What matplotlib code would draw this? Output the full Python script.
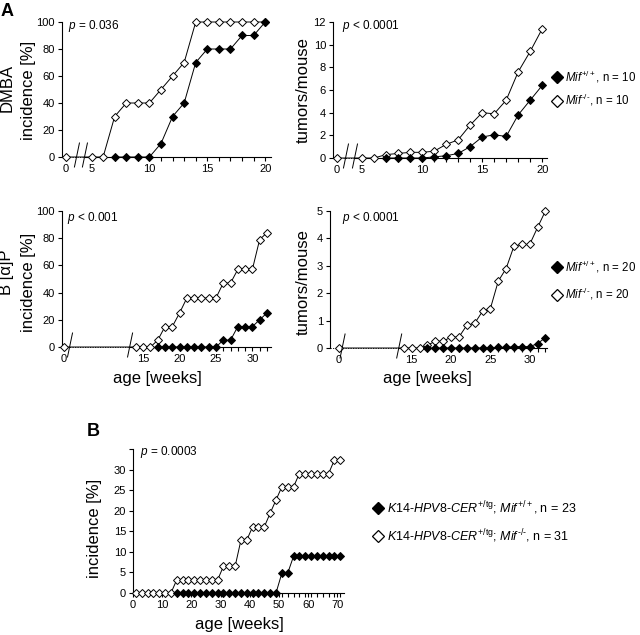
import matplotlib
matplotlib.use('Agg')
from matplotlib import pyplot as plt
from matplotlib.lines import Line2D

plt.rcParams['font.family'] = 'Liberation Sans'
plt.rcParams['mathtext.fontset'] = 'custom'
plt.rcParams['mathtext.rm'] = 'Liberation Sans'
plt.rcParams['mathtext.it'] = 'Liberation Sans:italic'
plt.rcParams['mathtext.bf'] = 'Liberation Sans:bold'

W, H = 640, 635

# A, DMBA (week 0 is drawn in front of the axis break)
dmba_weeks_ko = [0, 5, 6, 7, 8, 9, 10, 11, 12, 13, 14, 15, 16, 17, 18, 19, 20]
dmba_weeks_wt = [7, 8, 9, 10, 11, 12, 13, 14, 15, 16, 17, 18, 19, 20]
dmba_inc_ko = [0, 0, 0, 30, 40, 40, 40, 50, 60, 70, 100, 100, 100, 100, 100, 100, 100]
dmba_inc_wt = [0, 0, 0, 0, 10, 30, 40, 70, 80, 80, 80, 90, 90, 100]
dmba_tum_ko = [0, 0, 0, 0.3, 0.4, 0.5, 0.5, 0.6, 1.2, 1.6, 2.9, 4.0, 3.9, 5.1, 7.6, 9.4, 11.4]
dmba_tum_wt = [0, 0, 0, 0, 0.1, 0.2, 0.4, 1.0, 1.85, 2.05, 1.9, 3.8, 5.1, 6.4]

# A, B[a]P
bap_weeks_ko = [0, 14, 15, 16, 17, 18, 19, 20, 21, 22, 23, 24, 25, 26, 27, 28, 29, 30, 31, 32]
bap_weeks_wt = [17, 18, 19, 20, 21, 22, 23, 24, 25, 26, 27, 28, 29, 30, 31, 32]
bap_inc_ko = [0, 0, 0, 0, 5, 15, 15, 25, 36, 36, 36, 36, 36, 47, 47, 57, 57, 57, 79, 84]
bap_inc_wt = [0, 0, 0, 0, 0, 0, 0, 0, 0, 5, 5, 15, 15, 15, 20, 25]
bap_tum_ko = [0, 0, 0, 0, 0.1, 0.25, 0.25, 0.4, 0.4, 0.83, 0.9, 1.34, 1.44, 2.44, 2.9,
              3.72, 3.78, 3.78, 4.4, 5.0]
bap_tum_wt = [0, 0, 0, 0, 0, 0, 0, 0, 0, 0.02, 0.02, 0.05, 0.05, 0.05, 0.16, 0.38]

# B, K14-HPV8-CER
hpv_weeks_ko = [1, 3, 5, 7, 9, 11, 13, 15, 17, 19, 21, 23, 25, 27, 29, 31, 33, 35, 37, 39,
                41, 43, 45, 47, 49, 51, 53, 55, 57, 59, 61, 63, 65, 67, 69, 71]
hpv_inc_ko = [0, 0, 0, 0, 0, 0, 0, 3.2, 3.2, 3.2, 3.2, 3.2, 3.2, 3.2, 3.2, 6.5, 6.5, 6.5,
              12.9, 12.9, 16.1, 16.1, 16.1, 19.4, 22.6, 25.8, 25.8, 25.8, 29.0, 29.0, 29.0,
              29.0, 29.0, 29.0, 32.3, 32.3]
hpv_weeks_wt = [15, 17, 19, 21, 23, 25, 27, 29, 31, 33, 35, 37, 39, 41, 43, 45, 47, 49,
                51, 53, 55, 57, 59, 61, 63, 65, 67, 69, 71]
hpv_inc_wt = [0, 0, 0, 0, 0, 0, 0, 0, 0, 0, 0, 0, 0, 0, 0, 0, 0, 0,
              4.8, 4.8, 8.9, 8.9, 8.9, 8.9, 8.9, 8.9, 8.9, 8.9, 8.9]

fig = plt.figure(figsize=(W / 100, H / 100), dpi=100)


def add_axes(left, top, right, bottom):
    return fig.add_axes([left / W, 1 - bottom / H, (right - left) / W, (bottom - top) / H])


def ftext(x, y, s, **kw):
    fig.text(x / W, 1 - y / H, s, **kw)


def draw_series(ax, x_ko, y_ko, x_wt, y_wt, fake0=None):
    if fake0 is not None:
        x_ko = [fake0 if w == 0 else w for w in x_ko]
    ax.plot(x_ko, y_ko, color='k', lw=0.7, marker='D', ms=4, mfc='white', mec='k',
            mew=0.7, clip_on=False, zorder=3)
    ax.plot(x_wt, y_wt, color='k', lw=0.7, marker='D', ms=4, mfc='k', mec='k',
            mew=0.7, clip_on=False, zorder=4)


def style_axes(ax, xlim, ylim, yticks, ylabels=None):
    ax.set_xlim(*xlim)
    ax.set_ylim(*ylim)
    ax.set_yticks(yticks)
    if ylabels is not None:
        ax.set_yticklabels(ylabels)
    for s in ['top', 'right']:
        ax.spines[s].set_visible(False)
    for s in ['left', 'bottom']:
        ax.spines[s].set_linewidth(0.8)
    ax.tick_params(which='both', direction='out', length=3, width=0.8, labelsize=8, pad=2)
    ax.tick_params(which='minor', length=3)


def broken_x(ax, xlim, ylim, fake0, breaks, majors, minors):
    ax.spines['bottom'].set_bounds(breaks[-1], xlim[1])
    ax.plot([xlim[0], breaks[-1]], [0, 0], color='k', lw=0.6, ls=(0, (1.5, 1.5)),
            clip_on=False, zorder=1)
    ax.set_xticks([fake0] + majors)
    ax.set_xticklabels(['0'] + [str(m) for m in majors])
    ax.set_xticks(minors, minor=True)
    pos = ax.get_position()
    pxx = pos.width * W / (xlim[1] - xlim[0])
    pxy = pos.height * H / (ylim[1] - ylim[0])
    for b in breaks:
        ax.plot([b - 2.5 / pxx, b + 2.5 / pxx], [-10 / pxy, 14 / pxy], color='k', lw=0.7,
                clip_on=False, zorder=5)


# A: DMBA incidence
ax = add_axes(62, 22, 271, 157)
xl, yl = (2.45, 20.5), (0, 100)
style_axes(ax, xl, yl, [0, 20, 40, 60, 80, 100])
broken_x(ax, xl, yl, 2.8, [3.74, 4.43], [5, 10, 15, 20],
         [6, 7, 8, 9, 11, 12, 13, 14, 16, 17, 18, 19])
draw_series(ax, dmba_weeks_ko, dmba_inc_ko, dmba_weeks_wt, dmba_inc_wt, fake0=2.8)

# A: DMBA tumors/mouse
ax = add_axes(333, 22, 547, 158)
xl, yl = (2.58, 20.4), (0, 12)
style_axes(ax, xl, yl, [0, 2, 4, 6, 8, 10, 12])
broken_x(ax, xl, yl, 2.9, [3.66, 4.41], [5, 10, 15, 20],
         [6, 7, 8, 9, 11, 12, 13, 14, 16, 17, 18, 19])
draw_series(ax, dmba_weeks_ko, dmba_tum_ko, dmba_weeks_wt, dmba_tum_wt, fake0=2.9)

# A: B[a]P incidence
ax = add_axes(62, 211, 271, 347)
xl, yl = (3.85, 32.56), (0, 100)
style_axes(ax, xl, yl, [0, 20, 40, 60, 80, 100])
broken_x(ax, xl, yl, 4.1, [4.95, 13.2], [15, 20, 25, 30],
         [14, 16, 17, 18, 19, 21, 22, 23, 24, 26, 27, 28, 29, 31, 32])
draw_series(ax, bap_weeks_ko, bap_inc_ko, bap_weeks_wt, bap_inc_wt, fake0=4.1)

# A: B[a]P tumors/mouse
ax = add_axes(330, 211, 547, 348)
xl, yl = (4.6, 32.2), (0, 5)
style_axes(ax, xl, yl, [0, 1, 2, 3, 4, 5])
broken_x(ax, xl, yl, 5.7, [6.2, 13.4], [15, 20, 25, 30],
         [14, 16, 17, 18, 19, 21, 22, 23, 24, 26, 27, 28, 29, 31, 32])
draw_series(ax, bap_weeks_ko, bap_tum_ko, bap_weeks_wt, bap_tum_wt, fake0=5.7)

# B: K14-HPV8-CER incidence
ax = add_axes(133, 449, 344, 593)
style_axes(ax, (0, 72.3), (0, 35), [0, 5, 10, 15, 20, 25, 30, 35],
           ['0', '5', '10', '15', '20', '25', '30', ''])
ax.set_xticks([0, 10, 20, 30, 40, 50, 60, 70])
ax.set_xticks(hpv_weeks_ko, minor=True)
draw_series(ax, hpv_weeks_ko, hpv_inc_ko, hpv_weeks_wt, hpv_inc_wt)

# axis labels
lab = dict(fontsize=12, rotation=90, ha='center', va='center')
ftext(7, 88, 'DMBA', **lab)
ftext(29, 90, 'incidence [%]', **lab)
ftext(303, 90, 'tumors/mouse', **lab)
ftext(7, 272, 'B [α]P', **lab)
ftext(28, 282, 'incidence [%]', **lab)
ftext(303, 282, 'tumors/mouse', **lab)
ftext(95, 528, 'incidence [%]', **lab)
ftext(157, 378, 'age [weeks]', fontsize=12, ha='center', va='center')
ftext(427, 378, 'age [weeks]', fontsize=12, ha='center', va='center')
ftext(239, 624, 'age [weeks]', fontsize=12, ha='center', va='center')

# p values
ftext(68, 26, r'$p$ = 0.036', fontsize=8.5, va='center')
ftext(342, 26, r'$p$ < 0.0001', fontsize=8.5, va='center')
ftext(67, 218, r'$p$ < 0.001', fontsize=8.5, va='center')
ftext(342, 218, r'$p$ < 0.0001', fontsize=8.5, va='center')
ftext(140, 452, r'$p$ = 0.0003', fontsize=8.5, va='center')

# panel letters
ftext(1, 11, 'A', fontsize=13, fontweight='bold', va='center')
ftext(87, 432, 'B', fontsize=13, fontweight='bold', va='center')

# legends
h_wt = Line2D([], [], ls='none', marker='D', ms=6, mfc='k', mec='k')
h_ko = Line2D([], [], ls='none', marker='D', ms=6, mfc='white', mec='k', mew=0.9)
leg = dict(frameon=False, loc='center left', handlelength=0.8,
           handletextpad=0.3, borderpad=0, borderaxespad=0)
fig.legend([h_wt, h_ko], [r'$Mif^{+/+}$, n = 10', r'$Mif^{‐/‐}$, n = 10'],
           bbox_to_anchor=(552 / W, 1 - 88.5 / H), labelspacing=0.65, fontsize=8.3, **leg)
fig.legend([h_wt, h_ko], [r'$Mif^{+/+}$, n = 20', r'$Mif^{‐/‐}$, n = 20'],
           bbox_to_anchor=(552 / W, 1 - 280.5 / H), labelspacing=0.95, fontsize=8.3, **leg)
fig.legend([h_wt, h_ko],
           [r'$\mathit{K14‐HPV8‐CER}^{+/\mathrm{tg}}$; $Mif^{+/+}$, n = 23',
            r'$\mathit{K14‐HPV8‐CER}^{+/\mathrm{tg}}$; $Mif^{‐/‐}$, n = 31'],
           bbox_to_anchor=(373 / W, 1 - 522 / H), labelspacing=0.8, fontsize=9, **leg)

fig.savefig('out.png', dpi=100)
